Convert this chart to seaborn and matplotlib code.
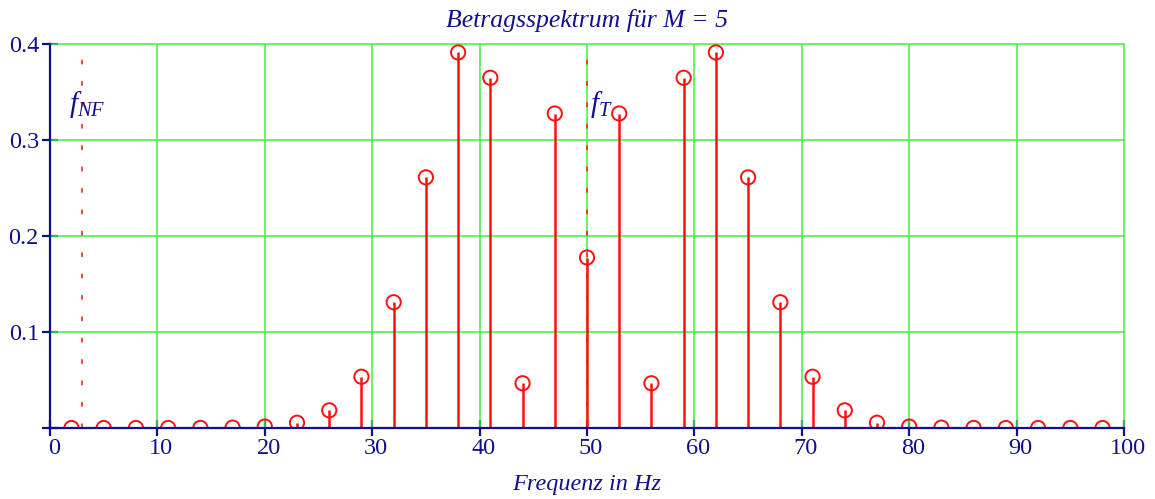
import numpy as np
import pandas as pd
import matplotlib
matplotlib.use("Agg")
import matplotlib.pyplot as plt
import matplotlib.transforms as mtransforms
import seaborn as sns

# Data: spectral lines (Hz) and magnitudes
freq = [2, 5, 8, 11, 14, 17, 20, 23, 26, 29, 32, 35, 38, 41, 44, 47, 50,
        53, 56, 59, 62, 65, 68, 71, 74, 77, 80, 83, 86, 89, 92, 95, 98]
amp = [0.0, 0.0, 0.0, 0.00002, 0.0001, 0.0004, 0.0015, 0.0055, 0.0184, 0.0534,
       0.1310, 0.2611, 0.3912, 0.3648, 0.0466, 0.3276, 0.1776,
       0.3276, 0.0466, 0.3648, 0.3912, 0.2611, 0.1310, 0.0534, 0.0184, 0.0055,
       0.0015, 0.0004, 0.0001, 0.00002, 0.0, 0.0, 0.0]
f_NF = 3
f_T = 50
xticks = [0, 10, 20, 30, 40, 50, 60, 70, 80, 90, 100]
yticks = [0.1, 0.2, 0.3, 0.4]
ytick_labels = ["0.1", "0.2", "0.3", "0.4"]
title = "Betragsspektrum für M = 5"
xlabel = "Frequenz in Hz"

sns.set_theme(style="white")
plt.rcParams["font.family"] = ["Liberation Serif", "DejaVu Serif"]
plt.rcParams["mathtext.fontset"] = "custom"
plt.rcParams["mathtext.it"] = "Liberation Serif:italic"
plt.rcParams["mathtext.rm"] = "Liberation Serif"

navy = "#10108a"
green = "#44ec44"
red = "#ff1010"

df = pd.DataFrame({"freq": freq, "amp": amp})

fig = plt.figure(figsize=(11.55, 4.99), dpi=100)
ax = fig.add_axes([50 / 1155, 1 - 428 / 499, (1124 - 50) / 1155, (428 - 44) / 499])

ax.set_xlim(0, 100)
ax.set_ylim(0, 0.4)

# grid
for x in xticks[1:-1]:
    ax.axvline(x, color=green, lw=1.1, zorder=1)
for y in yticks[:-1]:
    ax.axhline(y, color=green, lw=1.1, zorder=1)

# markers for f_NF and f_T
ax.vlines([f_NF, f_T], 0, 0.39, colors=red, lw=1.1, linestyles=[(0, (3, 11))], zorder=2)

# stems
ax.vlines(df["freq"], 0, df["amp"], colors=red, lw=1.8, zorder=3)
sns.scatterplot(data=df, x="freq", y="amp", ax=ax, marker="o", s=105,
                facecolors="none", edgecolor=red, linewidth=1.4, zorder=4,
                legend=False)

ax.text(1.75, 0.329, r"$f_{NF}$", color=navy, fontsize=21)
ax.text(50.3, 0.329, r"$f_{T}$", color=navy, fontsize=21)

# spines
for s in ["left", "bottom"]:
    ax.spines[s].set_color(navy)
    ax.spines[s].set_linewidth(1.6)
for s in ["top", "right"]:
    ax.spines[s].set_color(green)
    ax.spines[s].set_linewidth(1.1)
ax.spines["left"].set_zorder(5)
ax.spines["bottom"].set_zorder(5)

ax.set_xticks(xticks)
ax.set_xticklabels([str(v) for v in xticks])
ax.set_yticks([0] + yticks)
ax.set_yticklabels([""] + ytick_labels)
ax.tick_params(axis="both", direction="inout", length=12, width=1.6,
               color=navy, labelcolor=navy, labelsize=17.5, pad=2,
               bottom=True, left=True, top=False, right=False)
ax.tick_params(axis="y", pad=2)
ax.tick_params(axis="x", pad=1)
offset = mtransforms.ScaledTranslation(4 / 100, 0, fig.dpi_scale_trans)
for lbl in ax.get_xticklabels():
    lbl.set_transform(lbl.get_transform() + offset)

ax.set_xlabel(xlabel, color=navy, fontsize=17.5, style="italic", labelpad=11)
ax.set_title(title, color=navy, fontsize=18.5, style="italic", pad=12)
ax.set_ylabel("")

fig.savefig("out.png", dpi=100)
